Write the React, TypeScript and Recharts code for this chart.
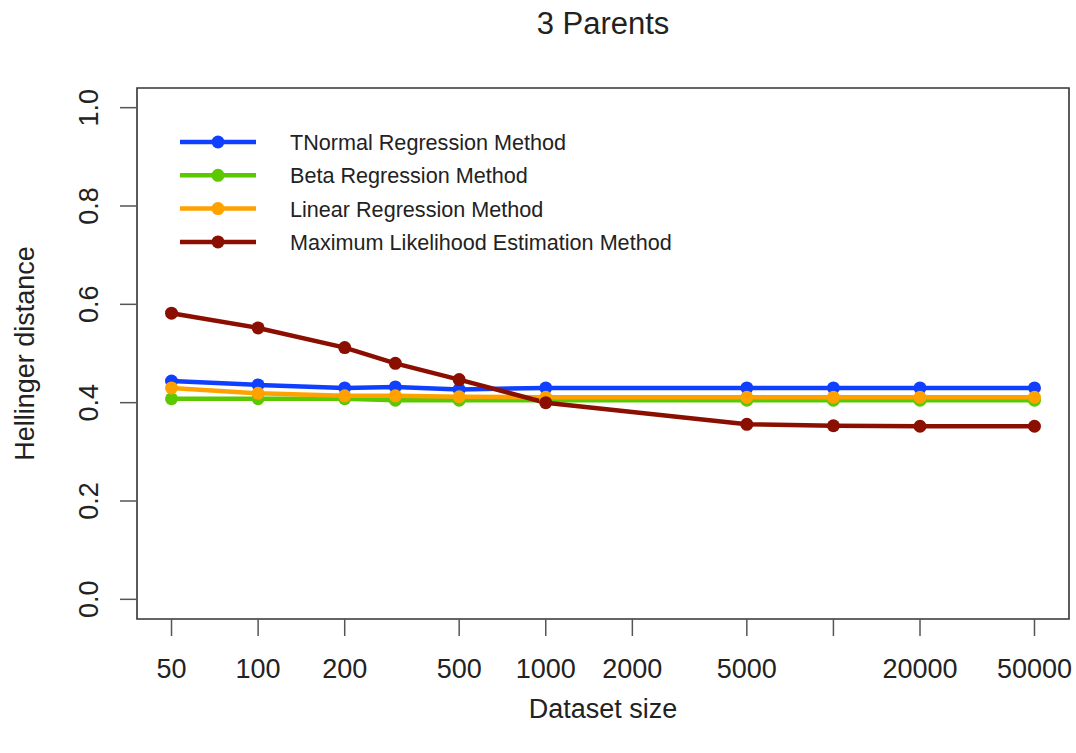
import { LineChart, Line, XAxis, YAxis, Legend, ReferenceArea, Label } from "recharts"

// dataset sizes (log x axis)
const sizes = [50, 100, 200, 300, 500, 1000, 5000, 10000, 20000, 50000]
const tnormal = [0.444, 0.436, 0.430, 0.432, 0.427, 0.430, 0.430, 0.430, 0.430, 0.430]
const beta = [0.408, 0.408, 0.408, 0.405, 0.405, 0.405, 0.405, 0.405, 0.405, 0.405]
const linear = [0.430, 0.419, 0.414, 0.414, 0.412, 0.411, 0.411, 0.411, 0.411, 0.411]
const mle = [0.582, 0.552, 0.512, 0.480, 0.447, 0.400, 0.356, 0.353, 0.352, 0.352]

const xTicks = [50, 100, 200, 500, 1000, 2000, 5000, 10000, 20000, 50000]
const xTickLabels = ["50", "100", "200", "500", "1000", "2000", "5000", "", "20000", "50000"]
const yTicks = [0, 0.2, 0.4, 0.6, 0.8, 1.0]

const seriesKeys = ["tnormal", "beta", "linear", "mle"]
const seriesNames = [
  "TNormal Regression Method",
  "Beta Regression Method",
  "Linear Regression Method",
  "Maximum Likelihood Estimation Method",
]
const seriesColors = ["#1040ff", "#5cc800", "#ffa200", "#8b0f00"]

const data = sizes.map((n, i) => ({
  n,
  tnormal: tnormal[i],
  beta: beta[i],
  linear: linear[i],
  mle: mle[i],
}))

// R style 4% axis extension
const xMin = Math.pow(10, Math.log10(50) - 0.12)
const xMax = Math.pow(10, Math.log10(50000) + 0.12)
const yMin = -0.04
const yMax = 1.04

const FONT = '"Liberation Sans", Arial, Helvetica, sans-serif'
const INK = "#222"
const LW = 4.5
const DOT_R = 6.5

const XTick = (props: any) => {
  const { x, y, payload } = props
  const idx = xTicks.indexOf(payload.value)
  const text = idx >= 0 ? xTickLabels[idx] : String(payload.value)
  return (
    <text x={x} y={y + 40} textAnchor="middle" fontSize={27} fill={INK} fontFamily={FONT}>
      {text}
    </text>
  )
}

const YTick = (props: any) => {
  const { x, y, payload } = props
  const tx = x - 20
  return (
    <text x={tx} y={y} transform={`rotate(-90, ${tx}, ${y})`} textAnchor="middle" fontSize={27} fill={INK} fontFamily={FONT}>
      {Number(payload.value).toFixed(1)}
    </text>
  )
}

// legend keeps plotting order, like R's legend()
const LegendBox = () => (
  <svg width={560} height={140} style={{ display: "block" }}>
    {seriesNames.map((name, i) => {
      const cy = 17 + i * 33.3
      const c = seriesColors[i]
      return (
        <g key={name}>
          <line x1={10} x2={86} y1={cy} y2={cy} stroke={c} strokeWidth={LW} />
          <circle cx={48} cy={cy} r={DOT_R} fill={c} />
          <text x={120} y={cy + 8} fontSize={21.6} fill={INK} fontFamily={FONT}>
            {name}
          </text>
        </g>
      )
    })}
  </svg>
)

export default function App() {
  return (
    <div style={{ position: "absolute", left: 0, top: 0, width: 1076, height: 753, background: "#fff", fontFamily: FONT }}>
      <div style={{ position: "absolute", left: 137, width: 932, top: 8, textAlign: "center", fontSize: 31, lineHeight: "31px", color: INK }}>
        3 Parents
      </div>
      <LineChart width={1076} height={753} data={data} margin={{ top: 88, right: 7, bottom: 74, left: 77 }}>
        <XAxis
          dataKey="n"
          type="number"
          scale="log"
          domain={[xMin, xMax]}
          allowDataOverflow
          ticks={xTicks}
          interval={0}
          tick={<XTick />}
          tickSize={17}
          tickMargin={2}
          tickLine={{ stroke: "#555", strokeWidth: 1.5 }}
          axisLine={false}
          height={60}
        >
          <Label
            content={(p: any) => {
              const vb = p.viewBox ?? { x: 137, y: 619, width: 932, height: 60 }
              return (
                <text x={vb.x + vb.width / 2} y={vb.y + 99} textAnchor="middle" fontSize={27} fill={INK} fontFamily={FONT}>
                  Dataset size
                </text>
              )
            }}
          />
        </XAxis>
        <YAxis
          type="number"
          domain={[yMin, yMax]}
          allowDataOverflow
          ticks={yTicks}
          interval={0}
          tick={<YTick />}
          tickSize={17}
          tickMargin={2}
          tickLine={{ stroke: "#555", strokeWidth: 1.5 }}
          axisLine={false}
          width={60}
        >
          <Label
            content={(p: any) => {
              const vb = p.viewBox ?? { x: 77, y: 88, width: 60, height: 531 }
              const lx = 34
              const ly = vb.y + vb.height / 2
              return (
                <text x={lx} y={ly} transform={`rotate(-90, ${lx}, ${ly})`} textAnchor="middle" fontSize={27} fill={INK} fontFamily={FONT}>
                  Hellinger distance
                </text>
              )
            }}
          />
        </YAxis>
        <ReferenceArea x1={xMin} x2={xMax} y1={yMin} y2={yMax} fill="none" stroke="#333" strokeWidth={1.6} ifOverflow="visible" />
        <Legend
          layout="horizontal"
          verticalAlign="middle"
          align="center"
          content={<LegendBox />}
          wrapperStyle={{ left: 170, top: 125, width: 560, height: 140 }}
        />
        {seriesKeys.map((k, i) => (
          <Line
            key={k}
            name={seriesNames[i]}
            dataKey={k}
            type="linear"
            stroke={seriesColors[i]}
            strokeWidth={LW}
            dot={{ r: DOT_R, fill: seriesColors[i], stroke: "none" }}
            activeDot={false}
            isAnimationActive={false}
          />
        ))}
      </LineChart>
    </div>
  )
}
